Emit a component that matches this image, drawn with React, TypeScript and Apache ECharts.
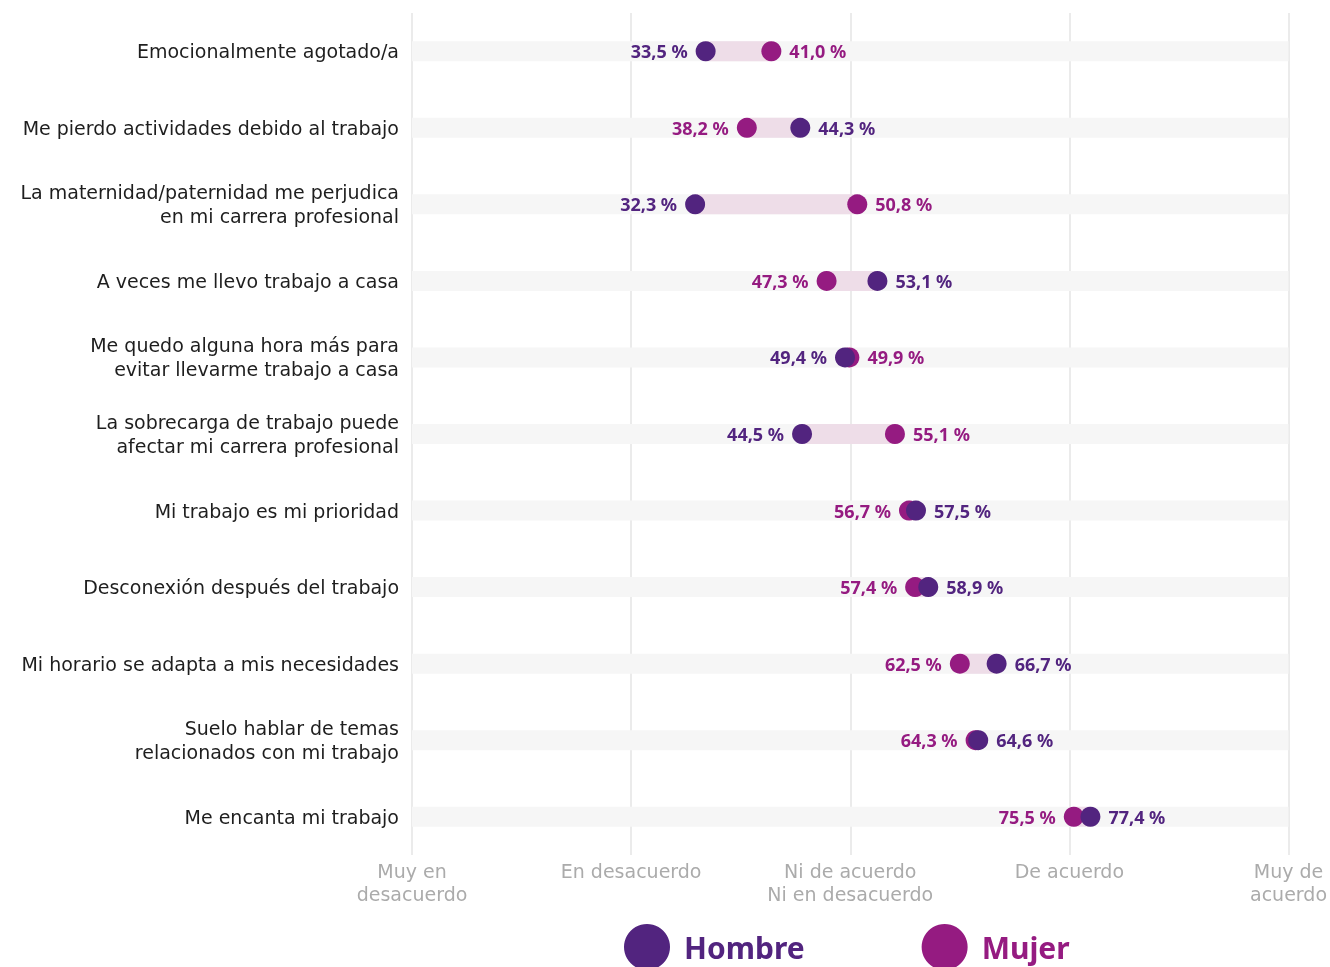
import React, { useEffect, useRef } from "react";
import * as echarts from "echarts";

const categories = [
  "Emocionalmente agotado/a",
  "Me pierdo actividades debido al trabajo",
  "La maternidad/paternidad me perjudica\nen mi carrera profesional",
  "A veces me llevo trabajo a casa",
  "Me quedo alguna hora más para\nevitar llevarme trabajo a casa",
  "La sobrecarga de trabajo puede\nafectar mi carrera profesional",
  "Mi trabajo es mi prioridad",
  "Desconexión después del trabajo",
  "Mi horario se adapta a mis necesidades",
  "Suelo hablar de temas\nrelacionados con mi trabajo",
  "Me encanta mi trabajo",
];
const hombre = [33.5, 44.3, 32.3, 53.1, 49.4, 44.5, 57.5, 58.9, 66.7, 64.6, 77.4];
const mujer = [41.0, 38.2, 50.8, 47.3, 49.9, 55.1, 56.7, 57.4, 62.5, 64.3, 75.5];
const xTickValues = [0, 25, 50, 75, 100];
const xTickLabels = [
  "Muy en\ndesacuerdo",
  "En desacuerdo",
  "Ni de acuerdo\nNi en desacuerdo",
  "De acuerdo",
  "Muy de\nacuerdo",
];

const C_H = "#52247F";
const C_M = "#951B81";
const FONT = "'DejaVu Sans', sans-serif";
const FONT2 = "'Noto Sans', sans-serif";

const fmt = (v: number) => v.toFixed(1).replace(".", ",") + " %";

export default function App() {
  const ref = useRef<HTMLDivElement>(null);
  useEffect(() => {
    if (!ref.current) return;
    const chart = echarts.init(ref.current, null, { renderer: "svg" });
    const bandData = categories.map((_, i) => [
      Math.min(hombre[i], mujer[i]),
      Math.max(hombre[i], mujer[i]),
      i,
    ]);
    const bgData = categories.map((_, i) => [0, 100, i]);
    const rectItem = (color: string) => (params: any, api: any) => {
      const a = api.coord([api.value(0), api.value(2)]);
      const b = api.coord([api.value(1), api.value(2)]);
      const h = 20;
      return {
        type: "rect",
        shape: { x: a[0], y: a[1] - h / 2, width: b[0] - a[0], height: h },
        style: { fill: color },
      };
    };
    const pointData = (vals: number[], other: number[]) =>
      vals.map((v, i) => ({
        value: [v, i],
        label: { position: v <= other[i] ? "left" : "right" },
      }));
    const valueLabel = (color: string) => ({
      show: true,
      color,
      fontSize: 18,
      fontWeight: "bold",
      fontFamily: FONT2,
      distance: 8,
      formatter: (p: any) => fmt(p.value[0]),
    });
    chart.setOption({
      animation: false,
      textStyle: { fontFamily: FONT },
      grid: { left: 412, right: 40, top: 13, bottom: 112, containLabel: false },
      xAxis: {
        type: "value",
        min: 0,
        max: 100,
        interval: 25,
        axisLine: { show: false },
        axisTick: { show: false },
        splitLine: { show: true, lineStyle: { color: "#EBEBEB", width: 2 } },
        axisLabel: {
          color: "#ABABAB",
          fontSize: 19,
          lineHeight: 23,
          margin: 4,
          fontFamily: FONT,
          formatter: (v: number) => {
            const idx = xTickValues.indexOf(v);
            return idx >= 0 ? xTickLabels[idx] : "";
          },
        },
      },
      yAxis: {
        type: "category",
        data: categories,
        inverse: true,
        axisLine: { show: false },
        axisTick: { show: false },
        splitLine: { show: false },
        axisLabel: {
          color: "#1E1E1E",
          fontSize: 19,
          lineHeight: 24,
          margin: 13,
          fontFamily: FONT,
        },
      },
      legend: {
        left: 624,
        top: 924,
        padding: 0,
        icon: "circle",
        itemWidth: 46,
        itemHeight: 46,
        itemGap: 117,
        textStyle: { fontSize: 30, fontWeight: "bold", fontFamily: FONT2, padding: [0, 0, 0, 9] },
        data: [
          { name: "Hombre", textStyle: { color: C_H } },
          { name: "Mujer", textStyle: { color: C_M } },
        ],
      },
      series: [
        {
          type: "custom",
          name: "bg",
          z: 1,
          renderItem: rectItem("#F6F6F6"),
          encode: { x: [0, 1], y: 2 },
          data: bgData,
          silent: true,
        },
        {
          type: "custom",
          name: "band",
          z: 2,
          renderItem: rectItem("#EEDDE8"),
          encode: { x: [0, 1], y: 2 },
          data: bandData,
          silent: true,
        },
        {
          type: "scatter",
          name: "Mujer",
          z: 3,
          symbolSize: 20,
          itemStyle: { color: C_M, opacity: 1 },
          label: valueLabel(C_M),
          data: pointData(mujer, hombre),
        },
        {
          type: "scatter",
          name: "Hombre",
          z: 4,
          symbolSize: 20,
          itemStyle: { color: C_H, opacity: 1 },
          label: valueLabel(C_H),
          data: pointData(hombre, mujer),
        },
      ],
    });
    return () => chart.dispose();
  }, []);
  return (
    <div
      ref={ref}
      style={{ position: "fixed", left: 0, top: 0, width: 1330, height: 967 }}
    />
  );
}
